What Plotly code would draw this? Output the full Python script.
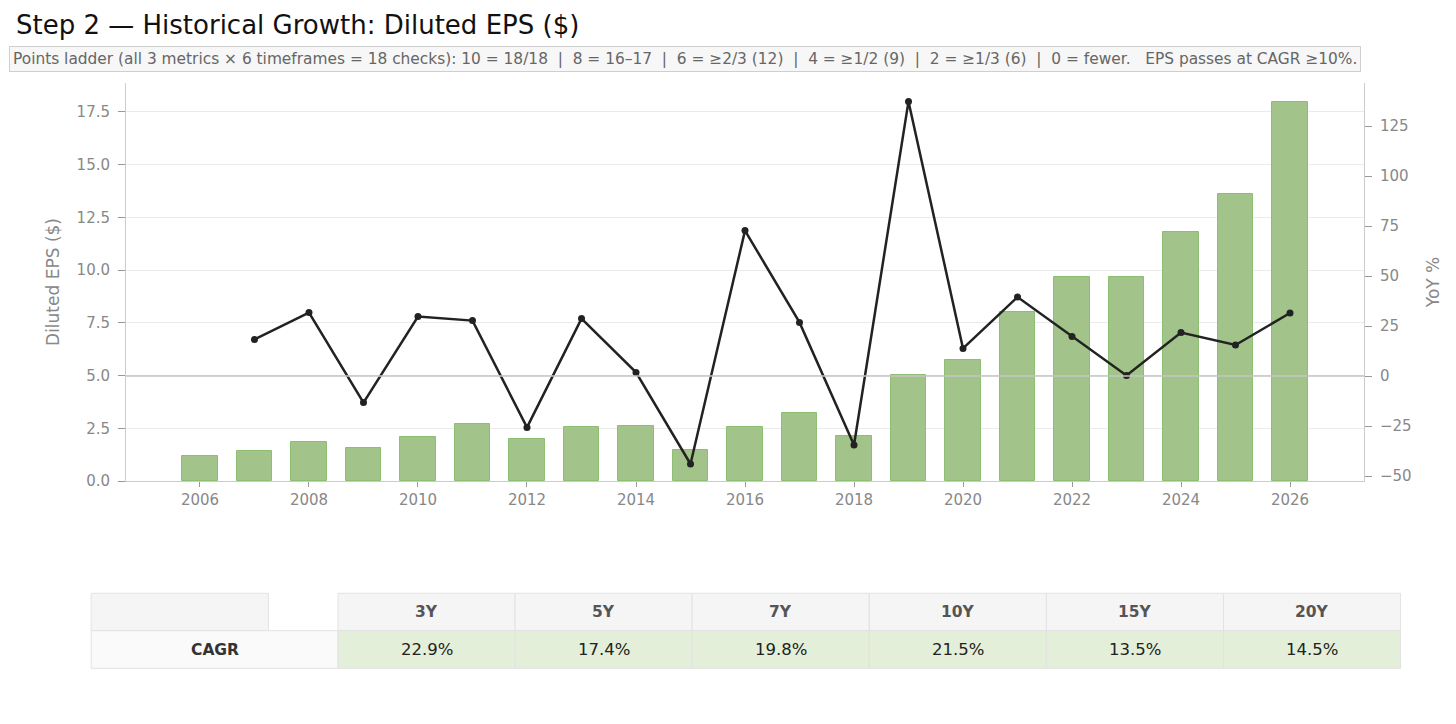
import plotly.graph_objects as go

# ---------------- data ----------------
years = list(range(2006, 2027))
eps = [1.19, 1.41, 1.85, 1.56, 2.07, 2.70, 1.99, 2.56, 2.61, 1.45, 2.56,
       3.24, 2.12, 5.04, 5.75, 8.03, 9.67, 9.67, 11.81, 13.61, 17.97]
yoy_years = list(range(2007, 2027))
yoy = [18.3, 31.7, -13.3, 29.7, 27.7, -25.7, 28.7, 1.8, -44.0, 72.7,
       26.8, -34.5, 137.3, 13.8, 39.5, 19.8, 0.3, 21.7, 15.5, 31.5]
cagr_labels = ["3Y", "5Y", "7Y", "10Y", "15Y", "20Y"]
cagr_values = ["22.9%", "17.4%", "19.8%", "21.5%", "13.5%", "14.5%"]
row_label = "CAGR"
left_ticks = [0, 2.5, 5, 7.5, 10, 12.5, 15, 17.5]
right_ticks = [-50, -25, 0, 25, 50, 75, 100, 125]
x_ticks = list(range(2006, 2027, 2))

title_text = "Step 2 \u2014 Historical Growth: Diluted EPS ($)"
SP = "\u00a0"
note_text = (f"Points ladder (all 3 metrics \u00d7 6 timeframes = 18 checks): 10 = 18/18 {SP}|{SP} "
             f"8 = 16\u201317 {SP}|{SP} 6 = \u22652/3 (12) {SP}|{SP} 4 = \u22651/2 (9) {SP}|{SP} "
             f"2 = \u22651/3 (6) {SP}|{SP} 0 = fewer.{SP}{SP} EPS passes at CAGR \u226510%.")

# ---------------- geometry ----------------
W, H = 1456, 724
L, R, T, B = 126, 1364, 83, 481
FONT = "DejaVu Sans"

def px(x):
    return (x - L) / (R - L)

def py(y):
    return (B - y) / (B - T)

fig = go.Figure()
fig.add_trace(go.Bar(
    x=years, y=eps, width=0.65,
    marker=dict(color="#a2c48a", line=dict(color="#8dbf73", width=1)),
    yaxis="y", showlegend=False, hoverinfo="skip"))
fig.add_trace(go.Scatter(
    x=yoy_years, y=yoy, mode="lines+markers",
    line=dict(color="#222222", width=2.5),
    marker=dict(color="#222222", size=7),
    yaxis="y2", showlegend=False, hoverinfo="skip"))

axis_common = dict(showline=True, linecolor="#cccccc", linewidth=1,
                   ticks="outside", tickcolor="#999999",
                   tickfont=dict(family=FONT, size=15, color="#888888"))

fig.update_layout(
    width=W, height=H,
    margin=dict(l=L, r=W - R, t=T, b=H - B, pad=0),
    paper_bgcolor="white", plot_bgcolor="white",
    font=dict(family=FONT),
    bargap=0,
    title=dict(text=title_text, xref="container", yref="container",
               x=16 / W, xanchor="left", y=1 - 25 / H, yanchor="middle",
               font=dict(family=FONT, size=26, color="#111111")),
    xaxis=dict(range=[2004.6425, 2027.3575], tickvals=x_ticks, showgrid=False,
               zeroline=False, mirror=False, ticklen=5, **axis_common),
    yaxis=dict(range=[0, (B - T) / 21.09], tickvals=left_ticks,
               tickformat=".1f", showgrid=True, gridcolor="#ebebeb", gridwidth=1,
               zeroline=False, ticklen=7, ticklabelstandoff=5,
               title=dict(text="Diluted EPS ($)", standoff=12,
                          font=dict(family=FONT, size=17, color="#888888")),
               **axis_common),
    yaxis2=dict(overlaying="y", side="right", anchor="x",
                range=[-(B - 376) / 2.0, (376 - T) / 2.0], tickvals=right_ticks,
                showgrid=False, zeroline=False, ticklen=7, ticklabelstandoff=5,
                title=dict(text="YoY %", standoff=16,
                           font=dict(family=FONT, size=17, color="#888888")),
                **axis_common),
)

# zero line for YoY
fig.add_shape(type="line", xref="paper", yref="y2", x0=0, x1=1, y0=0, y1=0,
              line=dict(color="#c4c4c4", width=1.5), layer="above")

# note box
fig.add_annotation(text=note_text, xref="paper", yref="paper",
                   x=px(9), xanchor="left", y=py(59), yanchor="middle",
                   showarrow=False, align="left",
                   font=dict(family=FONT, size=15.4, color="#666666"),
                   bgcolor="#f7f7f7", bordercolor="#cfcfcf", borderwidth=1,
                   borderpad=3)

# ---------------- table ----------------
TY0, TY1, TY2 = 593.3, 630.7, 668.3
TX0, TXH, TXC = 91.2, 268.4, 338.0
CW = (1400.6 - TXC) / len(cagr_labels)
border = "#e2e2e2"

def rect(x0, y0, x1, y1, fill):
    fig.add_shape(type="rect", xref="paper", yref="paper",
                  x0=px(x0), x1=px(x1), y0=py(y1), y1=py(y0),
                  fillcolor=fill, line=dict(color=border, width=1), layer="above")

def text(x, y, s, bold=False, color="#222222"):
    fig.add_annotation(text=f"<b>{s}</b>" if bold else s, xref="paper", yref="paper",
                       x=px(x), y=py(y), xanchor="center", yanchor="middle",
                       showarrow=False,
                       font=dict(family=FONT, size=15.5 if bold else 16.5, color=color))

rect(TX0, TY0, TXH, TY1, "#f5f5f5")
rect(TX0, TY1, TXC, TY2, "#fafafa")
text((TX0 + TXC) / 2, (TY1 + TY2) / 2, row_label, bold=True, color="#333333")
for i, (lab, val) in enumerate(zip(cagr_labels, cagr_values)):
    x0 = TXC + i * CW
    rect(x0, TY0, x0 + CW, TY1, "#f5f5f5")
    rect(x0, TY1, x0 + CW, TY2, "#e3efd9")
    text(x0 + CW / 2, (TY0 + TY1) / 2, lab, bold=True, color="#555555")
    text(x0 + CW / 2, (TY1 + TY2) / 2, val, color="#222222")

fig.write_html("out.html", config={"displayModeBar": False},
               post_script="document.body.style.margin='0';")
